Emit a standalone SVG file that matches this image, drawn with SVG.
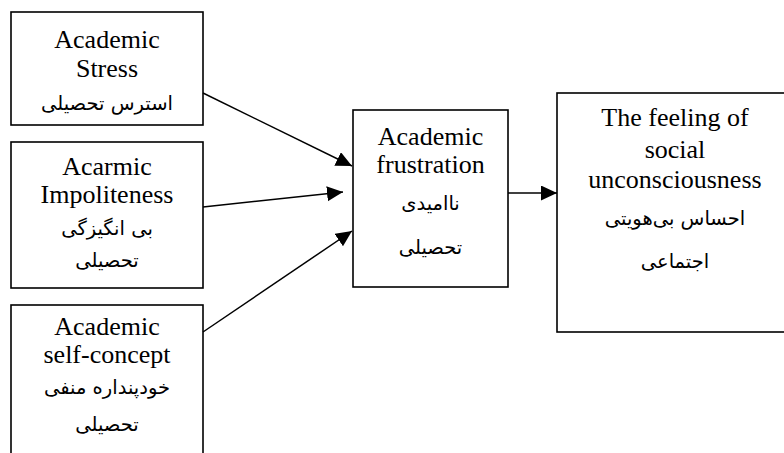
<svg xmlns="http://www.w3.org/2000/svg" width="784" height="453" viewBox="0 0 784 453">
<style>
.box{fill:#fff;stroke:#000;stroke-width:1.6}
.en{font-family:"Liberation Serif","Times New Roman",serif;font-size:26px;fill:#000;text-anchor:middle}
.fa{font-family:"DejaVu Sans","Noto Sans",sans-serif;font-size:19.5px;fill:#000;text-anchor:middle;direction:rtl}
.conn{stroke:#000;stroke-width:1.5;fill:none;marker-end:url(#ah)}
</style>
<defs>
<marker id="ah" markerUnits="userSpaceOnUse" markerWidth="18" markerHeight="16" refX="16" refY="7.5" orient="auto">
<path d="M0,0 L16,7.5 L0,15 Z" fill="#000"/>
</marker>
</defs>
<rect width="784" height="453" fill="#fff"/>
<g id="stress">
<rect class="box" x="11" y="12" width="192" height="113"/>
<text class="en" x="107" y="48">Academic</text>
<text class="en" x="107" y="77">Stress</text>
<text class="fa" x="107" y="110">استرس تحصیلی</text>
</g>
<g id="impoliteness">
<rect class="box" x="11" y="142" width="192" height="146"/>
<text class="en" x="107" y="175">Acarmic</text>
<text class="en" x="107" y="203">Impoliteness</text>
<text class="fa" x="107" y="235">بی انگیزگی</text>
<text class="fa" x="107" y="267">تحصیلی</text>
</g>
<g id="selfconcept">
<rect class="box" x="11" y="305" width="192" height="160"/>
<text class="en" x="107" y="335">Academic</text>
<text class="en" x="107" y="363">self-concept</text>
<text class="fa" x="107" y="394">خودپنداره منفی</text>
<text class="fa" x="107" y="431">تحصیلی</text>
</g>
<g id="frustration">
<rect class="box" x="353" y="110" width="155" height="177"/>
<text class="en" x="430.5" y="145">Academic</text>
<text class="en" x="430.5" y="173">frustration</text>
<text class="fa" x="430.5" y="210">ناامیدی</text>
<text class="fa" x="430.5" y="254">تحصیلی</text>
</g>
<g id="feeling">
<rect class="box" x="557" y="93" width="240" height="239"/>
<text class="en" x="675" y="126">The feeling of</text>
<text class="en" x="675" y="158">social</text>
<text class="en" x="675" y="188">unconsciousness</text>
<text class="fa" x="675" y="225">احساس بی‌هویتی</text>
<text class="fa" x="675" y="268">اجتماعی</text>
</g>
<g id="connectors">
<line class="conn" x1="203" y1="93" x2="352" y2="166"/>
<line class="conn" x1="203" y1="207" x2="343" y2="192"/>
<line class="conn" x1="203" y1="332" x2="352" y2="231"/>
<line class="conn" x1="508" y1="193" x2="557" y2="193"/>
</g>
</svg>
